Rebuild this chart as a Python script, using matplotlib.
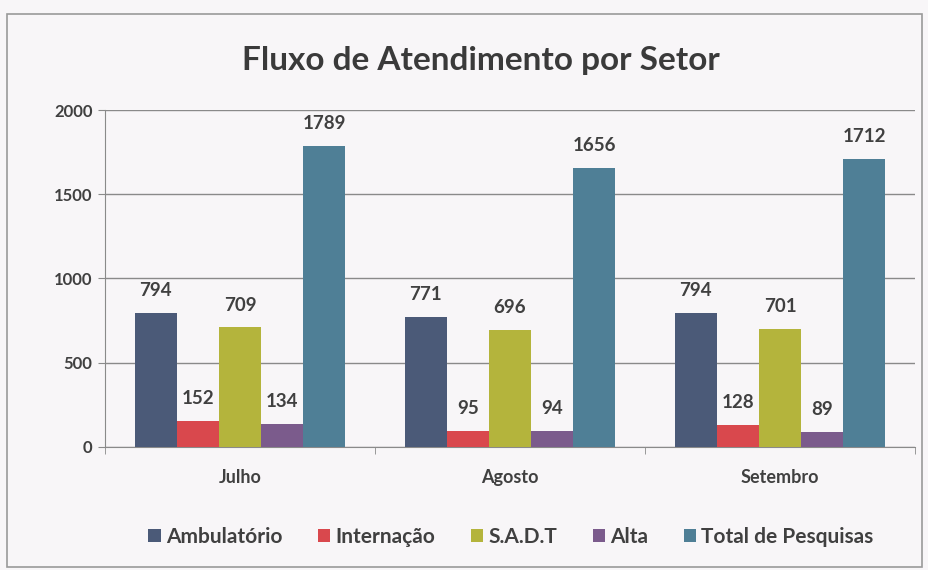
import numpy as np
import matplotlib.pyplot as plt
from matplotlib.patches import Rectangle

# data to plot
months = ['Julho', 'Agosto', 'Setembro']
series = ['Ambulatório', 'Internação', 'S.A.D.T', 'Alta', 'Total de Pesquisas']
ambulatorio = [794, 771, 794]
internacao = [152, 95, 128]
sadt = [709, 696, 701]
alta = [134, 94, 89]
total = [1789, 1656, 1712]
values = [ambulatorio, internacao, sadt, alta, total]
colors = ['#4b5a78', '#d9484d', '#b4b43c', '#7b5b8c', '#4f7f96']

plt.rcParams['font.family'] = ['Lato', 'DejaVu Sans']

fig = plt.figure(figsize=(9.29, 5.70), dpi=100)
fig.patch.set_facecolor('#f8f6f8')
fig.patches.append(Rectangle((0.008, 0.005), 0.984, 0.97, transform=fig.transFigure,
                             fill=False, edgecolor='#9a9a9a', linewidth=1.2))

ax = fig.add_axes([0.113, 0.216, 0.872, 0.591])
ax.set_facecolor('#f8f6f8')

index = np.arange(len(months))
bar_width = 0.156
for i, (name, vals) in enumerate(zip(series, values)):
    pos = index + (i - 2) * bar_width
    bars = ax.bar(pos, vals, bar_width, color=colors[i], label=name, zorder=3)
    for b, v in zip(bars, vals):
        ax.annotate(str(v), (b.get_x() + b.get_width() / 2, v),
                    xytext=(0, 10), textcoords='offset points',
                    ha='center', va='bottom', fontsize=13.5, fontweight='bold',
                    color='#404040')

ax.set_xlim(-0.5, 2.5)
ax.set_ylim(0, 2000)
ax.set_yticks([0, 500, 1000, 1500, 2000])
ax.grid(axis='y', color='#8a8a8a', linewidth=1.0, zorder=0)
ax.set_xticks(index)
ax.set_xticklabels(months)
ax.set_xticks([-0.5, 0.5, 1.5, 2.5], minor=True)
ax.tick_params(axis='x', which='major', length=0, pad=16)
ax.tick_params(axis='x', which='minor', length=5, color='#8a8a8a')
ax.tick_params(axis='y', length=5, color='#8a8a8a', pad=4)
for lab in ax.get_xticklabels():
    lab.set_fontsize(13)
for lab in ax.get_yticklabels():
    lab.set_fontsize(12)
for lab in ax.get_xticklabels() + ax.get_yticklabels():
    lab.set_fontweight('bold')
    lab.set_color('#404040')
for s in ['top', 'right']:
    ax.spines[s].set_visible(False)
ax.spines['left'].set_color('#8a8a8a')
ax.spines['bottom'].set_color('#8a8a8a')

fig.text(0.518, 0.893, 'Fluxo de Atendimento por Setor', ha='center', va='center',
         fontsize=24, fontweight='bold', color='#3a3a3a')

fig.legend(loc='center', bbox_to_anchor=(0.550, 0.058), ncol=5, frameon=False,
           handlelength=0.6, handleheight=0.6, handletextpad=0.25, columnspacing=1.7,
           prop={'size': 15, 'weight': 'bold'}, labelcolor='#404040')

fig.savefig('out.png', dpi=100, facecolor=fig.get_facecolor())
